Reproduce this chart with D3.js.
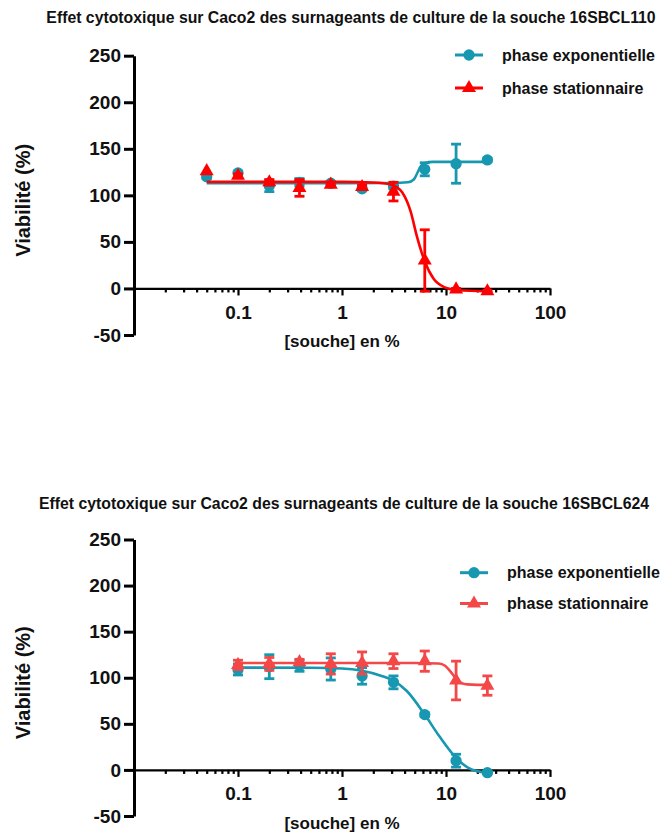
<!DOCTYPE html>
<html>
<head>
<meta charset="utf-8">
<script src="https://d3js.org/d3.v7.min.js"></script>
<style>
    body { margin: 0; background: #fff; }
    svg text { font-family: 'Liberation Sans', Arial, sans-serif; font-weight: bold; fill: #111; }
    .axis path, .axis line { stroke: #000; }
    .y-axis path, .y-axis line { stroke-width: 3; }
    .x-axis path, .x-axis line { stroke-width: 2.2; }
    .fit { fill: none; stroke-width: 2.6; }
    .err line { stroke-width: 2.8; }
</style>
</head>
<body>
<svg id="fig" width="662" height="832"></svg>
<script>
    // ---- top panel : souche 16SBCL110 ----
    const titleTop = "Effet cytotoxique sur Caco2 des surnageants de culture de la souche 16SBCL110";
    const concTop = [0.05, 0.1, 0.2, 0.39, 0.78, 1.56, 3.125, 6.25, 12.5, 25];
    const expoTopMean = [120, 124, 110, 114, 113, 107, 110, 128, 134, 138];
    const expoTopSd = [2, 2, 6, 4, 2, 2, 3, 7, 21, 2];
    const statTopMean = [126, 121, 114, 108, 111.5, 109, 104, 30, -1, -3];
    const statTopSd = [0, 2, 3, 9, 2, 2, 10, 33, 1, 1];
    // fitted curves as [conc, viab]
    const expoTopFit = [[0.05, 113], [1, 113], [3, 113.2], [4.3, 114], [4.9, 117], [5.3, 124],
        [5.7, 131], [6.2, 134.5], [7.5, 136], [25, 136]];
    const statTopFit = [[0.05, 114.5], [1, 114.5], [2, 113.8], [3, 111.5], [3.8, 103], [4.56, 83],
        [5.25, 56], [6.25, 29], [7.6, 10.5], [9.6, 1.5], [13, -2], [25, -3]];

    // ---- bottom panel : souche 16SBCL624 ----
    const titleBottom = "Effet cytotoxique sur Caco2 des surnageants de culture de la souche 16SBCL624";
    const concBottom = [0.1, 0.2, 0.39, 0.78, 1.56, 3.125, 6.25, 12.5, 25];
    const expoBottomMean = [109, 112, 113, 109.5, 102, 95, 60, 10, -3];
    const expoBottomSd = [6, 13, 6, 12, 9, 7, 2, 7, 1];
    const statBottomMean = [114, 115, 117, 115, 116, 118, 118, 97, 91.5];
    const statBottomSd = [5, 7, 3, 11, 12, 8, 11, 21, 10.5];
    const expoBottomFit = [[0.1, 111], [0.5, 110.8], [1, 110], [1.56, 107.5], [2.4, 102], [3.125, 97],
        [4.2, 85.6], [6.25, 60], [8.6, 36.7], [12.5, 13], [17.6, 0.5], [25, -3]];
    const statBottomFit = [[0.1, 116], [5, 116], [8.5, 115.5], [9.8, 113], [11, 107], [12.5, 99],
        [14, 94.5], [16, 92.8], [20, 92.3], [25, 92.3]];

    // ---- shared axes / labels ----
    const yTicks = [-50, 0, 50, 100, 150, 200, 250];
    const xMajorTicks = [0.1, 1, 10, 100];
    const xMinorTicks = [0.01, 0.1, 1, 10].flatMap(dec => d3.range(2, 10).map(k => +(k * dec).toPrecision(2)));
    const yLabel = "Viabilité (%)";
    const xLabel = "[souche] en %";
    const seriesNames = ["phase exponentielle", "phase stationnaire"];

    const teal = "#1797b0";
    const svg = d3.select("#fig");

    function drawSeries(g, x, y, conc, mean, sd, fit, color, shape) {
        g.append("path")
            .datum(fit)
            .attr("class", "fit")
            .attr("stroke", color)
            .attr("d", d3.line().x(d => x(d[0])).y(d => y(d[1])).curve(d3.curveMonotoneX));

        let pts = conc.map((c, i) => ({ c: c, m: mean[i], s: sd[i] }));
        let err = g.append("g").attr("class", "err").attr("stroke", color)
            .selectAll("g").data(pts.filter(d => d.s > 0)).enter().append("g");
        err.append("line")
            .attr("x1", d => x(d.c)).attr("x2", d => x(d.c))
            .attr("y1", d => y(d.m - d.s)).attr("y2", d => y(d.m + d.s));
        [-1, 1].forEach(sign => {
            err.append("line")
                .attr("x1", d => x(d.c) - 5).attr("x2", d => x(d.c) + 5)
                .attr("y1", d => y(d.m + sign * d.s)).attr("y2", d => y(d.m + sign * d.s));
        });

        g.append("g").selectAll("path").data(pts).enter().append("path")
            .attr("transform", d => `translate(${x(d.c)},${y(d.m)})`)
            .attr("d", d3.symbol().type(shape).size(shape === d3.symbolCircle ? 100 : 85)())
            .attr("fill", color);
    }

    function drawPanel(cfg) {
        const g = svg.append("g");
        const x = d3.scaleLog().domain([0.01, 100]).range([134, 550]);
        const y = d3.scaleLinear().domain([-50, 250]).range(cfg.yRange);

        g.append("text")
            .attr("x", cfg.titleX).attr("y", cfg.titleY)
            .attr("text-anchor", "middle")
            .style("font-size", "15.8px")
            .text(cfg.title);

        // y axis (plain hyphen for negatives, like the original)
        let yAxis = g.append("g").attr("class", "axis y-axis")
            .attr("transform", `translate(${x.range()[0]},0)`)
            .call(d3.axisLeft(y).tickValues(yTicks).tickSize(10).tickSizeOuter(0).tickPadding(3)
                .tickFormat(d => String(d)));
        yAxis.selectAll("text").style("font-size", "19px").attr("fill", "#111");

        // x axis drawn at viability 0
        let xAxis = g.append("g").attr("class", "axis x-axis")
            .attr("transform", `translate(0,${y(0)})`)
            .call(d3.axisBottom(x).tickValues(xMajorTicks).tickSize(7).tickSizeOuter(0)
                .tickPadding(10).tickFormat(d => String(d)));
        xAxis.selectAll("text").style("font-size", "19px").attr("fill", "#111");
        g.append("g").attr("class", "axis x-axis")
            .attr("transform", `translate(0,${y(0)})`)
            .call(d3.axisBottom(x).tickValues(xMinorTicks).tickSize(4).tickFormat(""))
            .select(".domain").remove();

        g.append("text")
            .attr("transform", `translate(23,${(y(-50) + y(250)) / 2 + 5}) rotate(-90)`)
            .attr("text-anchor", "middle")
            .attr("dy", "0.35em")
            .style("font-size", "20px")
            .text(yLabel);
        g.append("text")
            .attr("x", 342).attr("y", y(0) + 59)
            .attr("text-anchor", "middle")
            .style("font-size", "17px")
            .text(xLabel);

        drawSeries(g, x, y, cfg.conc, cfg.expoMean, cfg.expoSd, cfg.expoFit, teal, d3.symbolCircle);
        drawSeries(g, x, y, cfg.conc, cfg.statMean, cfg.statSd, cfg.statFit, cfg.red, d3.symbolTriangle);

        // legend
        let leg = g.append("g").selectAll("g")
            .data([{ name: seriesNames[0], color: teal, shape: d3.symbolCircle },
                   { name: seriesNames[1], color: cfg.red, shape: d3.symbolTriangle }])
            .enter().append("g")
            .attr("transform", (d, i) => `translate(${cfg.legendX},${cfg.legendY[i]})`);
        leg.append("line").attr("x1", -14).attr("x2", 14)
            .attr("stroke", d => d.color).attr("stroke-width", 3);
        leg.append("path")
            .attr("d", d => d3.symbol().type(d.shape).size(d.shape === d3.symbolCircle ? 100 : 85)())
            .attr("fill", d => d.color);
        leg.append("text").attr("x", 33).attr("dy", "0.36em")
            .style("font-size", "16px").attr("fill", "#222")
            .text(d => d.name);
    }

    drawPanel({
        title: titleTop, titleX: 351, titleY: 23,
        yRange: [335, 55.7],
        conc: concTop, expoMean: expoTopMean, expoSd: expoTopSd, expoFit: expoTopFit,
        statMean: statTopMean, statSd: statTopSd, statFit: statTopFit,
        red: "#ff0000", legendX: 469, legendY: [55, 88]
    });
    drawPanel({
        title: titleBottom, titleX: 344, titleY: 509,
        yRange: [816, 539.5],
        conc: concBottom, expoMean: expoBottomMean, expoSd: expoBottomSd, expoFit: expoBottomFit,
        statMean: statBottomMean, statSd: statBottomSd, statFit: statBottomFit,
        red: "#f44848", legendX: 474, legendY: [572.7, 603.5]
    });
</script>
</body>
</html>
